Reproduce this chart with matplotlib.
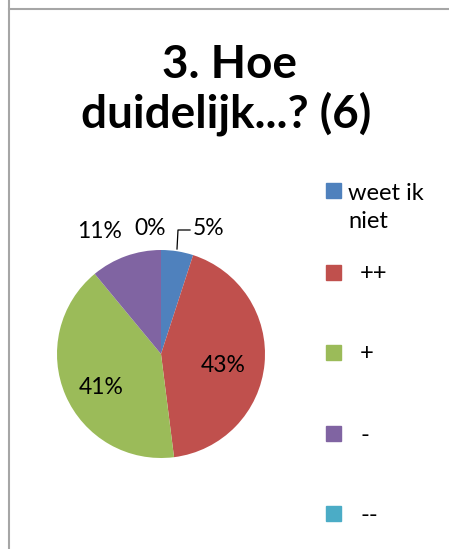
import matplotlib
matplotlib.use("Agg")
import matplotlib.pyplot as plt
from matplotlib.patches import Rectangle
from matplotlib.lines import Line2D

title_lines = ["3. Hoe", "duidelijk...? (6)"]
categories = ["weet ik\nniet", "++", "+", "-", "--"]
values = [5, 43, 41, 11, 0]
pct_labels = ["5%", "43%", "41%", "11%", "0%"]
colors = ["#4F81BD", "#C0504D", "#9BBB59", "#8064A2", "#4BACC6"]

W, H = 449, 549
fig = plt.figure(figsize=(W / 100, H / 100), dpi=100)
FONT = ["Lato", "DejaVu Sans"]

def fx(x): return x / W
def fy(y): return 1 - y / H

# frame lines
fig.add_artist(Line2D([fx(9), fx(9)], [0, 1], color="#A6A6A6", lw=1.5))
fig.add_artist(Line2D([fx(9), 1], [fy(9), fy(9)], color="#A6A6A6", lw=1.5))

# title (two lines, baselines)
for (x, yb), t in zip([(229, 78), (226, 127)], title_lines):
    fig.text(fx(x), fy(yb), t, ha="center", va="baseline", fontsize=33,
             fontweight="bold", family=FONT)

# pie
cx, cy, r = 161, 354, 104
ax = fig.add_axes([fx(cx - r), fy(cy + r), 2 * r / W, 2 * r / H])
wedges, _ = ax.pie(values, colors=colors, startangle=90, counterclock=False,
                   radius=1.0, wedgeprops=dict(linewidth=0))
ax.set_xlim(-1, 1); ax.set_ylim(-1, 1)
ax.set_aspect("auto")
ax.axis("off")

# percentage labels positions (pixels)
label_pos = [(209, 229), (223, 366), (101, 387), (100, 232), (150, 229)]
for (lx, ly), t in zip(label_pos, pct_labels):
    fig.text(fx(lx), fy(ly), t, ha="center", va="center", fontsize=16.5, family=FONT)
# leader line for 5%
fig.add_artist(Line2D([fx(177), fx(178), fx(190)], [fy(249), fy(230), fy(230)],
                      color="black", lw=0.9))

# legend
ys = [191, 272, 352, 433, 513]
for y, c, lab in zip(ys, colors, categories):
    fig.add_artist(Rectangle((fx(326), fy(y + 7.5)), 15 / W, 15 / H, color=c))
    lines = lab.split("\n")
    x0 = 348 if len(lines) > 1 else 360
    for i, ln in enumerate(lines):
        fig.text(fx(x0), fy(y + 29 * i), ln, ha="left", va="center_baseline",
                 fontsize=17, family=FONT)

fig.savefig("out.png", dpi=100)
